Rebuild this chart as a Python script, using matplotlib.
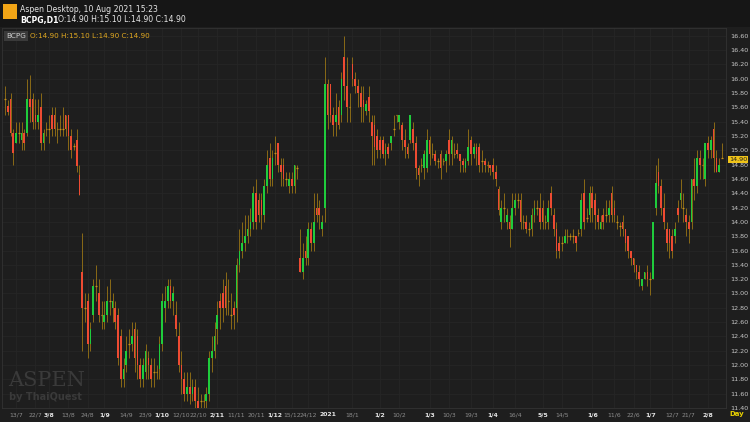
import numpy as np
import matplotlib.pyplot as plt
from matplotlib.patches import Rectangle

opens = [
    15.72,15.62,15.72,15.24,15.10,15.24,15.14,15.24,15.24,15.72, 15.72,15.50,15.40,15.60,15.10,15.30,15.30,15.50,15.50,15.30,
    15.30,15.30,15.50,15.50,15.20,15.06,15.14,14.66,
    13.30,12.80,12.90,12.30,12.70,13.10,13.00,12.70,12.60,12.70, 12.90,12.80,12.80,12.70,12.40,11.80,12.00,12.30,12.30,12.50,
    12.40,12.00,11.80,11.90,12.10,12.00,11.90,11.90,11.95,12.30, 12.80,12.90,13.10,12.90,12.70,12.40,12.00,11.80,11.60,11.70,
    11.60,11.70,11.50,11.50,11.50,11.50,11.60,12.10,12.20,12.50, 12.90,13.00,13.10,12.90,12.70,12.80,12.80,13.40,13.60,13.70,
    13.80,13.90,14.00,14.40,14.30,14.30,14.10,14.50,14.90,14.60, 14.97,15.10,14.80,14.80,14.60,14.50,14.60,14.50,14.76,13.50,
    13.30,13.60,13.50,13.90,13.70,14.20,14.20,13.90,14.20,15.93, 15.93,15.50,15.40,15.60,15.50,16.30,15.90,15.60,16.20,16.00,
    15.90,15.80,15.70,15.55,15.75,15.40,15.35,15.20,15.15,15.15, 14.95,15.05,15.10,15.30,15.50,15.40,15.35,15.15,15.05,15.15,
    15.30,15.10,14.75,14.80,14.75,14.75,15.15,14.95,14.95,14.85, 14.95,14.85,14.85,15.15,14.95,14.95,15.00,14.95,14.85,14.75,
    14.85,15.15,14.95,15.05,15.05,14.85,14.85,14.80,14.80,
    14.80,14.70,14.46,14.00,14.20,14.00,14.00,13.90,14.20,14.30, 14.30,14.00,14.00,13.90,13.90,14.10,14.20,14.20,14.20,14.00,
    14.00,14.40,14.10,13.90,13.70,13.70,13.70,13.80,13.80,13.80, 13.80,13.85,13.90,14.40,14.05,14.10,14.40,14.30,14.10,13.90,
    14.10,14.10,14.10,14.40,14.20,14.00,13.95,14.00,13.90,13.80, 13.60,13.50,13.40,13.30,13.10,13.20,13.30,13.20,13.20,14.20,
    14.70,14.50,14.20,13.90,13.90,13.80,13.80,14.20,14.30,14.20, 14.10,14.00,14.00,14.60,14.50,14.90,14.80,14.60,15.10,15.00,
    15.30,14.90,14.70,14.90,
]
closes = [
    15.72,15.54,15.24,14.96,15.24,15.24,15.24,15.10,15.72,15.60, 15.40,15.40,15.50,15.10,15.24,15.30,15.30,15.30,15.30,15.30,
    15.30,15.30,15.30,15.20,15.00,15.06,14.78,14.38,
    12.80,12.80,12.30,12.50,13.10,13.10,12.70,12.70,12.70,12.90, 12.90,12.90,12.60,12.10,11.80,11.95,12.20,12.30,12.40,12.10,
    12.00,11.80,12.00,12.20,12.00,11.80,11.90,11.90,12.30,12.90, 12.90,13.10,12.90,13.00,12.50,12.00,11.80,11.60,11.70,11.60,
    11.70,11.50,11.40,11.50,11.50,11.60,12.10,12.20,12.40,12.70, 12.80,12.80,12.80,12.90,12.70,12.70,13.40,13.60,13.70,13.80,
    13.90,14.00,14.40,14.00,14.10,14.10,14.50,14.80,14.60,14.90, 14.97,14.80,14.70,14.60,14.60,14.60,14.50,14.80,14.76,13.30,
    13.50,13.50,13.90,13.70,14.00,14.10,14.10,14.00,15.93,15.50, 15.50,15.35,15.50,15.35,16.00,15.90,15.60,15.60,16.00,15.90,
    15.80,15.60,15.60,15.65,15.55,15.20,15.05,15.00,15.00,14.95, 15.00,14.95,15.20,15.30,15.50,15.50,15.15,15.05,14.95,15.50,
    15.10,14.75,14.65,14.80,14.95,15.15,14.95,14.95,14.85,14.85, 14.75,14.85,14.95,14.95,15.15,14.95,14.95,14.85,14.80,14.85,
    15.05,14.95,15.05,14.95,14.80,14.85,14.80,14.80,14.75,
    14.70,14.60,14.17,14.20,14.20,14.10,13.90,14.20,14.30,14.30, 14.00,14.00,13.90,13.90,14.10,14.20,14.20,14.00,14.00,14.00,
    14.20,14.20,13.90,13.60,13.60,13.70,13.80,13.80,13.80,13.80, 13.70,13.85,14.30,14.00,14.05,14.40,14.20,14.10,14.00,14.00,
    14.00,14.10,14.20,14.10,14.10,14.00,13.95,13.90,13.70,13.60, 13.50,13.40,13.30,13.20,13.20,13.30,13.20,13.20,14.00,14.55,
    14.50,14.20,14.00,13.70,13.70,13.60,13.90,14.10,14.40,14.20, 14.00,13.90,14.60,14.50,14.90,14.80,14.80,15.10,15.00,15.15,
    14.90,14.70,14.80,14.90,
]
highs = [
    15.90,15.70,15.80,15.30,15.40,15.40,15.40,15.30,16.00,16.05, 15.80,15.72,15.72,15.80,15.30,15.40,15.50,15.60,15.60,15.40,
    15.50,15.60,15.50,15.50,15.30,15.10,15.30,14.80,
    13.85,13.00,13.00,12.60,13.20,13.40,13.20,12.90,12.90,13.10, 13.20,13.00,12.90,12.80,12.50,12.10,12.40,12.50,12.60,12.60,
    12.50,12.10,12.10,12.30,12.20,12.10,12.10,12.00,12.40,13.00, 13.10,13.20,13.20,13.10,12.90,12.60,12.20,11.90,11.90,11.90,
    11.80,11.80,11.70,11.60,11.60,11.70,12.20,12.40,12.60,12.90, 13.00,13.20,13.30,13.20,13.00,12.90,13.50,13.90,14.00,14.10,
    14.10,14.20,14.50,14.60,14.40,14.40,14.60,15.00,15.10,15.00, 15.20,15.10,14.90,14.90,14.70,14.70,14.70,14.80,14.80,13.90,
    13.70,13.80,14.00,14.00,14.40,14.40,14.30,14.10,16.30,16.00, 15.90,15.60,15.80,15.70,16.10,16.60,16.30,15.80,16.30,16.10,
    16.00,15.90,15.90,15.70,15.90,15.50,15.50,15.30,15.20,15.20, 15.10,15.10,15.20,15.50,15.50,15.50,15.40,15.30,15.10,15.50,
    15.40,15.20,14.80,14.90,15.00,15.30,15.20,15.10,15.00,14.90, 15.00,14.90,15.00,15.30,15.20,15.10,15.10,14.90,14.90,14.90,
    15.30,15.20,15.10,15.10,15.10,15.00,14.90,14.85,14.80,
    14.90,14.80,14.50,14.30,14.40,14.20,14.10,14.40,14.40,14.40, 14.40,14.10,14.10,14.00,14.20,14.30,14.30,14.40,14.30,14.10,
    14.30,14.50,14.20,14.00,13.80,13.80,13.90,13.90,13.85,13.90, 13.80,13.90,14.40,14.60,14.20,14.50,14.50,14.40,14.20,14.10,
    14.20,14.30,14.30,14.50,14.30,14.10,14.00,14.10,13.90,13.80, 13.60,13.50,13.40,13.40,13.20,13.30,13.40,13.30,14.00,14.80,
    14.90,14.60,14.40,14.00,13.90,13.90,14.00,14.30,14.60,14.40, 14.20,14.10,14.60,14.90,15.00,15.00,14.90,15.10,15.20,15.20,
    15.40,15.00,14.90,15.10,
]
lows = [
    15.50,15.50,15.20,14.80,15.10,15.10,15.00,15.00,15.20,15.40, 15.30,15.30,15.30,15.00,15.00,15.20,15.10,15.20,15.20,15.10,
    15.20,15.20,15.20,15.00,14.90,15.00,14.70,14.38,
    12.20,12.60,12.10,12.20,12.60,12.90,12.60,12.50,12.50,12.60, 12.70,12.60,12.50,12.00,11.70,11.70,11.90,12.10,12.20,11.90,
    11.80,11.70,11.70,11.80,11.80,11.70,11.70,11.80,11.80,12.20, 12.60,12.80,12.80,12.70,12.40,11.90,11.60,11.50,11.50,11.45,
    11.50,11.40,11.35,11.40,11.40,11.40,11.50,11.90,12.10,12.30, 12.50,12.60,12.70,12.70,12.50,12.50,12.60,13.30,13.50,13.60,
    13.70,13.80,13.90,13.90,14.00,13.90,14.00,14.40,14.50,14.50, 14.80,14.70,14.50,14.50,14.50,14.40,14.40,14.40,14.60,13.30,
    13.20,13.40,13.40,13.60,13.60,14.00,13.90,13.80,14.00,15.30, 15.40,15.20,15.20,15.30,15.40,15.70,15.40,15.40,15.90,15.80,
    15.60,15.40,15.40,15.50,15.40,14.80,14.80,14.90,14.90,14.90, 14.80,14.90,15.00,15.20,15.40,15.30,15.00,14.90,14.90,15.10,
    15.00,14.60,14.50,14.70,14.60,14.70,14.80,14.90,14.80,14.75, 14.60,14.80,14.70,14.80,14.80,14.90,14.90,14.70,14.70,14.70,
    14.80,14.80,14.90,14.80,14.70,14.70,14.70,14.70,14.65,
    14.60,14.50,14.10,13.90,14.00,13.90,13.65,13.90,14.10,14.20, 13.90,13.90,13.85,13.80,13.80,14.00,14.10,13.90,13.90,13.90,
    13.90,14.10,13.80,13.50,13.50,13.60,13.70,13.70,13.75,13.70, 13.60,13.80,13.80,13.90,14.00,14.00,14.00,13.90,13.90,13.90,
    13.90,14.00,14.00,14.00,14.00,13.90,13.80,13.80,13.60,13.50, 13.40,13.30,13.20,13.10,13.05,13.20,13.10,12.98,13.20,14.10,
    14.40,14.10,13.90,13.60,13.50,13.50,13.70,14.00,14.20,14.00, 13.80,13.70,13.90,14.30,14.40,14.60,14.60,14.50,14.90,14.90,
    14.70,14.70,14.70,14.90,
]

date_labels = ["13/7", "22/7", "3/8", "13/8", "24/8", "1/9", "14/9", "23/9", "1/10", "12/10", "22/10",
               "2/11", "11/11", "20/11", "1/12", "15/12", "24/12", "2021", "18/1", "1/2", "10/2", "1/3",
               "10/3", "19/3", "1/4", "16/4", "5/5", "14/5", "1/6", "11/6", "22/6", "1/7", "12/7", "21/7", "2/8"]
date_idx = [4, 11, 16, 23, 30, 36, 44, 51, 57, 64, 70, 77, 84, 91, 98, 104, 110, 117, 126, 136, 143,
            154, 161, 169, 177, 185, 195, 202, 213, 221, 228, 234, 242, 248, 255]
month_start = {"3/8", "1/9", "1/10", "2/11", "1/12", "2021", "1/2", "1/3", "1/4", "5/5", "1/6", "1/7", "2/8"}

bg = "#1e1e1e"
green = "#1fcc3c"
red = "#ee4b32"
wick = "#8a6a16"

fig = plt.figure(figsize=(7.5, 4.22), dpi=100, facecolor=bg)
ax = fig.add_axes([0.003, 14 / 422, 0.965, 1 - 42 / 422], facecolor=bg)

n = len(closes)
x = np.arange(n)
w = 0.6
for i in x:
    o, c, h, l = opens[i], closes[i], highs[i], lows[i]
    ax.vlines(i, l, h, color=wick, lw=0.7, zorder=2)
    if abs(c - o) < 0.02:
        ax.hlines(o, i - w / 2, i + w / 2, color="#c8901a", lw=0.9, zorder=3)
    else:
        col = green if c > o else red
        ax.add_patch(Rectangle((i - w / 2, min(o, c)), w, abs(c - o), color=col, lw=0, zorder=3))

ax.set_xlim(-1, n + 0.5)
ax.set_ylim(11.476, 16.71)
ticks = np.round(np.arange(11.4, 16.61, 0.2), 2)
ax.set_yticks(ticks)
ax.set_yticklabels([f"{t:.2f}" for t in ticks])
ax.yaxis.tick_right()
ax.tick_params(axis="y", length=0, pad=3, labelsize=4.6, labelcolor="#c8c8c8")
ax.set_xticks(date_idx)
ax.set_xticklabels(date_labels)
ax.tick_params(axis="x", length=0, pad=3, labelsize=4.4)
for lab in ax.get_xticklabels():
    if lab.get_text() in month_start:
        lab.set_color("#e6e6e6")
        lab.set_fontweight("bold")
    else:
        lab.set_color("#8c8c8c")
ax.grid(True, color="#262626", lw=0.6)
ax.set_axisbelow(True)
for s in ax.spines.values():
    s.set_color("#333333")
    s.set_linewidth(0.6)

# current price tag
ax.text(1.004, (14.90 - 11.476) / (16.71 - 11.476), "14.90", transform=ax.transAxes,
        fontsize=4.6, color="#1e1e1e", va="center", ha="left",
        bbox=dict(boxstyle="square,pad=0.2", fc="#f0c419", ec="none"))
fig.text(0.992, 0.018, "Day", color="#e8d000", fontsize=5, ha="right", va="center", fontweight="bold")

# header
fig.patches.append(Rectangle((0, 1 - 27 / 422), 1, 27 / 422, transform=fig.transFigure,
                             fc="#161616", ec="none", zorder=0))
fig.patches.append(Rectangle((3 / 750, 1 - 19 / 422), 14 / 750, 15 / 422, transform=fig.transFigure,
                             fc="#f2a516", ec="none", zorder=1))
fig.text(20 / 750, 1 - 9 / 422, "Aspen Desktop, 10 Aug 2021 15:23", color="#e6e6e6", fontsize=5.6, va="center")
fig.text(20 / 750, 1 - 20 / 422, "BCPG,D1", color="#ffffff", fontsize=5.6, va="center", fontweight="bold")
fig.text(58 / 750, 1 - 20 / 422, "O:14.90 H:15.10 L:14.90 C:14.90", color="#e6e6e6", fontsize=5.6, va="center")
fig.text(6 / 750, 1 - 36 / 422, "BCPG", color="#d0d0d0", fontsize=5.2, va="center",
         bbox=dict(boxstyle="square,pad=0.3", fc="#3a3a3a", ec="none"))
fig.text(30 / 750, 1 - 36 / 422, "O:14.90 H:15.10 L:14.90 C:14.90", color="#e0a820", fontsize=5.2, va="center")

# watermark
fig.text(8 / 750, 1 - 380 / 422, "ASPEN", color="#3a3a3a", fontsize=15, family="DejaVu Serif", va="center")
fig.text(9 / 750, 1 - 397 / 422, "by ThaiQuest", color="#3a3a3a", fontsize=7, va="center", fontweight="bold")

fig.savefig("out.png", dpi=100, facecolor=bg)
